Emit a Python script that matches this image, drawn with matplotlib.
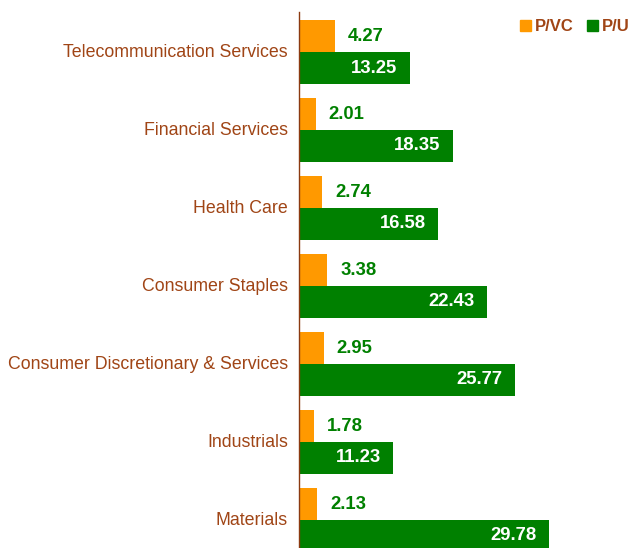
import matplotlib.pyplot as plt
from matplotlib.patches import Patch
import numpy as np

plt.rcParams['font.family'] = ['Liberation Sans', 'DejaVu Sans']

categories = ['Telecommunication Services', 'Financial Services', 'Health Care',
              'Consumer Staples', 'Consumer Discretionary & Services',
              'Industrials', 'Materials']
p_vc = [4.27, 2.01, 2.74, 3.38, 2.95, 1.78, 2.13]
p_u = [13.25, 18.35, 16.58, 22.43, 25.77, 11.23, 29.78]

orange = '#FF9900'
green = '#008000'
brown = '#A04516'

W, H = 629, 548
fig = plt.figure(figsize=(W / 100, H / 100), dpi=100)
# axes placed in pixel terms: axis line at x=299, top 12, bottom 548
ax = fig.add_axes([299 / W, 0, 1 - 299 / W, (548 - 12) / H])

y = np.arange(len(categories))
h = 0.41
ax.barh(y - h / 2, p_vc, height=h, color=orange)
ax.barh(y + h / 2, p_u, height=h, color=green)

for i in range(len(categories)):
    ax.text(p_vc[i] + 1.55, y[i] - h / 2, f'{p_vc[i]:.2f}', va='center', ha='left',
            color=green, fontsize=13.3, fontweight='bold')
    ax.text(p_u[i] - 1.5, y[i] + h / 2, f'{p_u[i]:.2f}', va='center', ha='right',
            color='white', fontsize=13.3, fontweight='bold')

ax.set_xlim(0, 330 / 8.39)
ax.set_ylim(6.359, -0.513)
ax.set_yticks(y - 0.02)
ax.set_yticklabels(categories, color=brown, fontsize=12.8)
ax.tick_params(axis='y', length=0, pad=8)
ax.set_xticks([])
for s in ['top', 'right', 'bottom']:
    ax.spines[s].set_visible(False)
ax.spines['left'].set_color('#8B3A10')
ax.spines['left'].set_linewidth(1)

handles = [Patch(color=orange, label='P/VC'), Patch(color=green, label='P/U')]
leg = fig.legend(handles=handles, loc='upper right', bbox_to_anchor=(1.025, 0.992),
                 ncol=2, frameon=False, handlelength=0.65, handleheight=0.65,
                 handletextpad=0.25, columnspacing=0.8,
                 prop={'weight': 'bold', 'size': 12})
for t in leg.get_texts():
    t.set_color(brown)

fig.savefig('out.png', dpi=100)
